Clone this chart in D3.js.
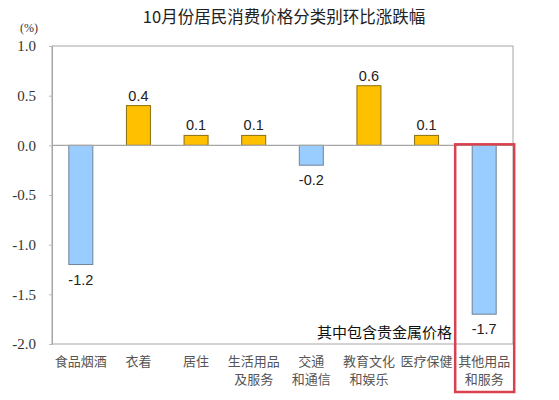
<!DOCTYPE html>
<html><head><meta charset="utf-8">
<script src="https://cdn.jsdelivr.net/npm/d3@7"></script>
<style>body{margin:0;background:#fff}svg{display:block}</style>
</head><body>
<svg id="c" width="559" height="400"></svg>
<script>
const categories = [["食品烟酒"],["衣着"],["居住"],["生活用品","及服务"],["交通","和通信"],["教育文化","和娱乐"],["医疗保健"],["其他用品","和服务"]];
const values = [-1.2, 0.4, 0.1, 0.1, -0.2, 0.6, 0.1, -1.7];
const yTicks = [1.0, 0.5, 0.0, -0.5, -1.0, -1.5, -2.0];
const title = "10月份居民消费价格分类别环比涨跌幅";
const unit = "(%)";
const note = "其中包含贵金属价格";

const svg = d3.select("#c");
const L = 52, R = 513, T = 46, B = 344;
const x = d3.scaleBand().domain(d3.range(categories.length)).range([L, R]);
const y = d3.scaleLinear().domain([-2, 1]).range([B, T]);
const bw = 24;

svg.append("text").attr("x", 284).attr("y", 23).attr("text-anchor", "middle")
  .attr("font-family", "Noto Sans CJK SC").attr("font-size", 16.5).attr("fill", "#222").text(title);
svg.append("text").attr("x", 29).attr("y", 32).attr("text-anchor", "middle")
  .attr("font-family", "Liberation Serif").attr("font-size", 12).attr("fill", "#333").text(unit);

// frame
svg.append("rect").attr("x", L).attr("y", T).attr("width", R - L).attr("height", B - T)
  .attr("fill", "none").attr("stroke", "#a6a6a6").attr("stroke-width", 1);

// y axis
const yAxis = d3.axisLeft(y).tickValues(yTicks).tickFormat(d3.format(".1f")).tickSize(3).tickPadding(13);
const ga = svg.append("g").attr("transform", `translate(${L},0)`).call(yAxis);
ga.select(".domain").attr("stroke", "#a6a6a6");
ga.selectAll(".tick line").attr("stroke", "#bbb");
ga.selectAll(".tick text").attr("font-family", "Liberation Serif").attr("font-size", 15).attr("fill", "#333")
  .text(d => d < 0 ? "-" + d3.format(".1f")(-d) : d3.format(".1f")(d));

// bars
svg.selectAll("rect.bar").data(values).join("rect").attr("class", "bar")
  .attr("x", (d, i) => x(i) + x.bandwidth() / 2 - bw / 2)
  .attr("y", d => y(Math.max(0, d)))
  .attr("width", bw)
  .attr("height", d => Math.abs(y(d) - y(0)))
  .attr("fill", d => d < 0 ? "#99ccff" : "#ffc000")
  .attr("stroke", d => d < 0 ? "#6f8397" : "#8a6d10").attr("stroke-width", 1);

// zero line
svg.append("line").attr("x1", L).attr("x2", R).attr("y1", y(0)).attr("y2", y(0))
  .attr("stroke", "#a6a6a6").attr("stroke-width", 1.2);

// value labels
svg.selectAll("text.val").data(values).join("text").attr("class", "val")
  .attr("x", (d, i) => x(i) + x.bandwidth() / 2)
  .attr("y", d => d < 0 ? y(d) + 20 : y(d) - 5)
  .attr("text-anchor", "middle").attr("font-family", "Liberation Sans").attr("font-size", 14.5).attr("fill", "#222")
  .text(d => d3.format(".1f")(d).replace("−", "-"));

// category labels
const cg = svg.selectAll("text.cat").data(categories).join("text").attr("class", "cat")
  .attr("x", (d, i) => x(i) + x.bandwidth() / 2)
  .attr("y", 366)
  .attr("text-anchor", "middle").attr("font-family", "Noto Sans CJK SC").attr("font-size", 13).attr("fill", "#555");
cg.selectAll("tspan").data(d => d).join("tspan")
  .attr("x", function () { return d3.select(this.parentNode).attr("x"); })
  .attr("dy", (d, i) => i === 0 ? 0 : 18).text(d => d);

// note
svg.append("text").attr("x", 452).attr("y", 338).attr("text-anchor", "end")
  .attr("font-family", "Noto Sans CJK SC").attr("font-size", 15).attr("fill", "#111").text(note);

// highlight box
const hi = categories.length - 1;
svg.append("rect").attr("x", x(hi) + x.bandwidth() / 2 - 29).attr("y", y(0) - 1)
  .attr("width", 59).attr("height", 392 - y(0) + 1)
  .attr("fill", "none").attr("stroke", "#d9414e").attr("stroke-width", 2.5);
</script>
</body></html>
